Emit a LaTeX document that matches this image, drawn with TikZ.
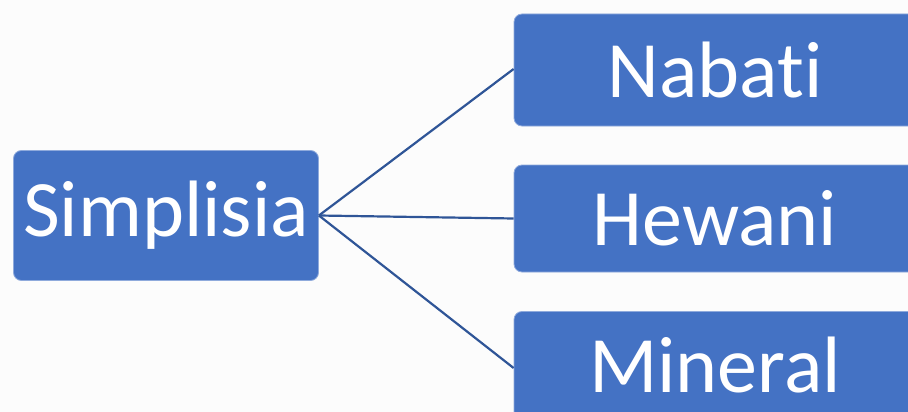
\documentclass[tikz,border=0pt]{standalone}
\usepackage{fontspec}
\setmainfont[Ligatures=NoCommon]{Carlito}
\definecolor{boxblue}{HTML}{4472C4}
\definecolor{boxedge}{HTML}{8FAADC}
\definecolor{linkblue}{HTML}{2F5597}
\begin{document}
\begin{tikzpicture}[x=1pt,y=-1pt,
  itembox/.style={fill=boxblue, draw=boxedge, line width=0.8pt, rounded corners=8pt,
    text=white, inner sep=0pt, font=\fontsize{80}{90}\selectfont},
  link/.style={draw=linkblue, line width=2.2pt}]
  \useasboundingbox (0,0) rectangle (908,412);
  \clip (0,0) rectangle (908,412);
  \fill[white!99!black] (0,0) rectangle (908,412);
  % root box
  \node[itembox, minimum width=305pt, minimum height=130pt] (root) at (166,215.5) {Simplisia};
  % category boxes, running past the right edge
  \node[itembox, minimum width=402pt, minimum height=112pt] (nabati) at (715,70) {Nabati};
  \node[itembox, minimum width=402pt, minimum height=107pt] (hewani) at (715,218.5) {Hewani};
  \node[itembox, minimum width=402pt, minimum height=108pt] (mineral) at (715,365.5) {Mineral};
  % connectors
  \coordinate (hub) at (root.east);
  \draw[link] (hub) -- ([yshift=1pt]nabati.west);
  \draw[link] (hub) -- (hewani.west);
  \draw[link] (hub) -- ([yshift=-2.5pt]mineral.west);
\end{tikzpicture}
\end{document}
